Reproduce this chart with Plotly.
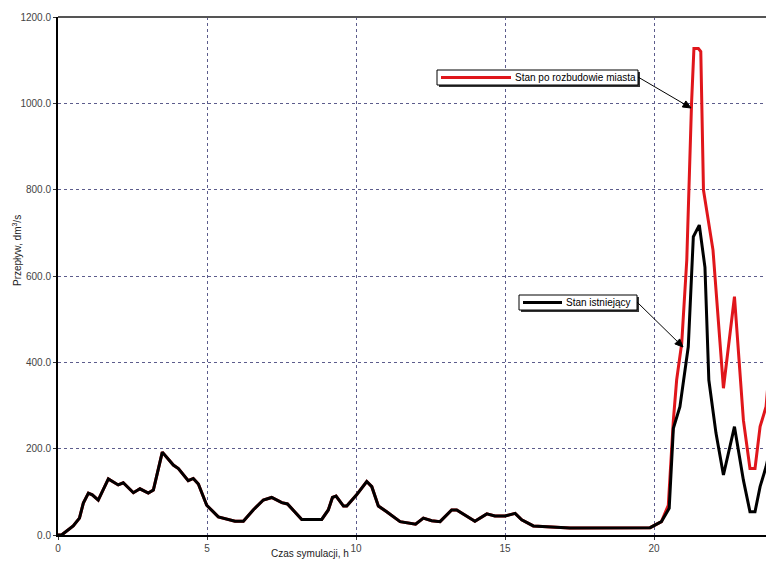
import math
import plotly.graph_objects as go

# Simulation time [h] and flow [dm3/s] – existing state
t_existing = [0.0, 0.12, 0.51, 0.72, 0.85, 1.02, 1.15, 1.35, 1.69, 2.02, 2.19, 2.53, 2.75,
              3.03, 3.2, 3.5, 3.87, 4.04, 4.37, 4.54, 4.71, 4.99, 5.38, 5.94, 6.22, 6.55,
              6.89, 7.17, 7.51, 7.7, 8.18, 8.85, 9.07, 9.21, 9.33, 9.58, 9.69, 10.02,
              10.36, 10.53, 10.75, 11.03, 11.48, 12.0, 12.26, 12.54, 12.82, 13.21, 13.38,
              13.99, 14.39, 14.66, 15.0, 15.34, 15.56, 15.95, 17.18, 19.87, 20.25, 20.51,
              20.65, 20.87, 21.15, 21.32, 21.52, 21.71, 21.84, 22.08, 22.33, 22.7, 23.0,
              23.22, 23.39, 23.56, 23.76, 23.95]
q_existing = [0, 0, 21, 39, 74, 97, 93, 81, 130, 116, 121, 98, 107,
              97, 104, 192, 162, 154, 126, 131, 118, 69, 42, 32, 32, 58,
              81, 87, 75, 72, 36, 36, 58, 87, 90, 67, 67, 93,
              124, 112, 67, 54, 31, 25, 39, 33, 31, 58, 58,
              32, 49, 44, 44, 50, 35, 21, 16, 17, 31, 62,
              247, 297, 436, 691, 718, 620, 359, 236, 139, 251, 127,
              54, 54, 112, 158, 215]

# Flow after city expansion (identical until the evening peak)
t_expanded = t_existing[:59] + [20.48, 20.65, 20.76, 20.93, 21.1, 21.26, 21.34, 21.49, 21.57,
                                21.66, 21.98, 22.33, 22.7, 23.0, 23.22, 23.39, 23.56, 23.76, 23.95]
q_expanded = q_existing[:59] + [69, 266, 359, 444, 637, 1000, 1127, 1127, 1120,
                                799, 660, 340, 552, 266, 154, 154, 251, 297, 450]

x_ticks = [0, 5, 10, 15, 20]
y_ticks = [0, 200, 400, 600, 800, 1000, 1200]

W, H = 766, 564
L, R, T, B = 58, 0, 17, 29
PW, PH = W - L - R, H - T - B


def px(x):
    return (x - L) / PW


def py(y):
    return (H - B - y) / PH


fig = go.Figure()
fig.add_trace(go.Scatter(x=t_expanded, y=q_expanded, mode="lines",
                         line=dict(color="#e0161b", width=3), name="Stan po rozbudowie miasta"))
fig.add_trace(go.Scatter(x=t_existing, y=q_existing, mode="lines",
                         line=dict(color="#000000", width=3), name="Stan istniejący"))

font = dict(family="Liberation Sans, Arial, sans-serif", size=10, color="#222")
grid = dict(showgrid=True, gridcolor="#5c5c8c", griddash="dot", gridwidth=1,
            showline=True, linecolor="#000", linewidth=2, ticks="outside", ticklen=3,
            tickcolor="#333", zeroline=False, tickfont=dict(family=font["family"], size=10, color="#444"))

fig.update_layout(
    width=W, height=H, margin=dict(l=L, r=R, t=T, b=B),
    paper_bgcolor="white", plot_bgcolor="white", showlegend=False,
    xaxis=dict(range=[0, PW / 29.8], tickvals=x_ticks, **grid),
    yaxis=dict(range=[0, 1200], tickvals=y_ticks, tickformat=".1f", **grid),
)

shapes = [dict(type="line", xref="paper", yref="paper", x0=0, x1=1, y0=1, y1=1,
               line=dict(color="#555", width=2))]
annotations = [
    dict(text="Przepływ, dm<sup>3</sup>/s", xref="paper", yref="paper", x=px(17), y=py(251),
         xanchor="center", yanchor="middle", textangle=-90, showarrow=False, font=font),
    dict(text="Czas symulacji, h", xref="paper", yref="paper", x=px(310), y=py(553),
         xanchor="center", yanchor="middle", showarrow=False, font=font),
]


def arrow(x0, y0, x1, y1, head=8, half=3.5):
    """Pointer line with a filled triangular head at (x1, y1), in pixels."""
    d = math.hypot(x1 - x0, y1 - y0)
    ux, uy = (x1 - x0) / d, (y1 - y0) / d
    bx, by = x1 - ux * head, y1 - uy * head
    lx, ly = bx - uy * half, by + ux * half
    rx, ry = bx + uy * half, by - ux * half
    line = dict(type="line", xref="paper", yref="paper",
                x0=px(x0), y0=py(y0), x1=px(bx), y1=py(by), line=dict(color="#000", width=1))
    path = "M {} {} L {} {} L {} {} Z".format(px(x1), py(y1), px(lx), py(ly), px(rx), py(ry))
    tri = dict(type="path", xref="paper", yref="paper", path=path,
               fillcolor="#000", line=dict(color="#000", width=1))
    return [line, tri]


legends = [
    # (box x0, y0, x1, y1, sample end, color, label, arrow tip)
    (437, 70, 638, 85, 511, "#e0161b", "Stan po rozbudowie miasta", (691, 108)),
    (519, 295, 637, 310, 562, "#000000", "Stan istniejący", (683, 347)),
]
for x0, y0, x1, y1, xs, col, label, tip in legends:
    shapes.append(dict(type="rect", xref="paper", yref="paper",
                       x0=px(x0 + 2), x1=px(x1 + 2), y0=py(y0 + 2), y1=py(y1 + 2),
                       fillcolor="#333", line=dict(width=0)))
    shapes.append(dict(type="rect", xref="paper", yref="paper",
                       x0=px(x0), x1=px(x1), y0=py(y0), y1=py(y1),
                       fillcolor="white", line=dict(color="#000", width=1)))
    ym = (y0 + y1) / 2
    shapes.append(dict(type="line", xref="paper", yref="paper",
                       x0=px(x0 + 4), x1=px(xs), y0=py(ym), y1=py(ym),
                       line=dict(color=col, width=3)))
    annotations.append(dict(text=label, xref="paper", yref="paper", x=px(xs + 2), y=py(ym),
                            xanchor="left", yanchor="middle", showarrow=False,
                            font=dict(family=font["family"], size=10, color="#000")))
    shapes.extend(arrow(x1, y0 + 7, tip[0], tip[1]))

fig.update_layout(shapes=shapes, annotations=annotations)
fig.write_html("out.html")
